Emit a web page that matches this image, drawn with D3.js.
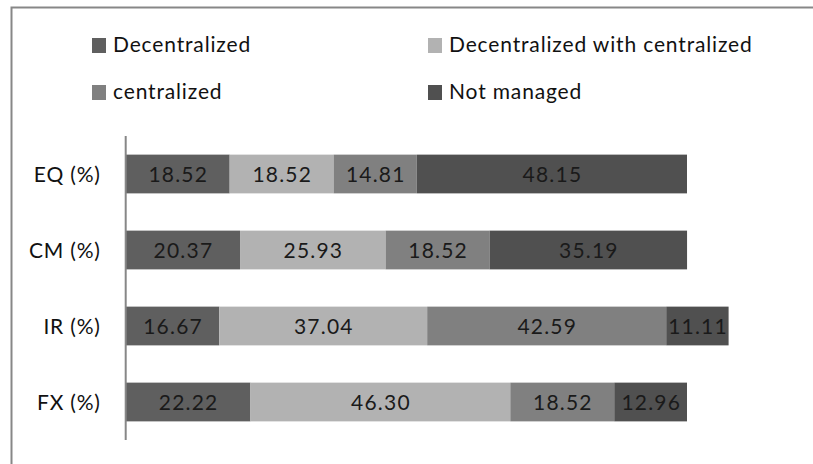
<!DOCTYPE html>
<html>
<head>
<meta charset="utf-8">
<script src="https://cdn.jsdelivr.net/npm/d3@7/dist/d3.min.js"></script>
<style>
  html, body { margin: 0; padding: 0; background: #ffffff; }
  svg { display: block; }
  text { font-family: Lato, "Open Sans", sans-serif; }
</style>
</head>
<body>
<div id="chart"></div>
<script>
// Risk management approach by exposure type (share of respondents, %)
const categories = ["EQ (%)", "CM (%)", "IR (%)", "FX (%)"];
const seriesNames = ["Decentralized", "Decentralized with centralized", "centralized", "Not managed"];
const decentralized = [18.52, 20.37, 16.67, 22.22];
const decentralizedWithCentralized = [18.52, 25.93, 37.04, 46.30];
const centralized = [14.81, 18.52, 42.59, 18.52];
const notManaged = [48.15, 35.19, 11.11, 12.96];
const labels = [
  ["18.52", "18.52", "14.81", "48.15"],
  ["20.37", "25.93", "18.52", "35.19"],
  ["16.67", "37.04", "42.59", "11.11"],
  ["22.22", "46.30", "18.52", "12.96"]
];
const colors = ["#5f5f5f", "#b2b2b2", "#808080", "#505050"];

const W = 813, H = 464;
const svg = d3.select("#chart").append("svg")
  .attr("width", W).attr("height", H);

svg.append("rect").attr("width", W).attr("height", H).attr("fill", "#ffffff");

// chart area frame (left and top edges)
svg.append("path")
  .attr("d", `M11.5,${H} V7.5 H${W}`)
  .attr("fill", "none").attr("stroke", "#878787").attr("stroke-width", 2);

// stacked rows
const rows = categories.map((c, i) => {
  const vals = [decentralized[i], decentralizedWithCentralized[i], centralized[i], notManaged[i]];
  let acc = 0;
  return {
    cat: c,
    segs: vals.map((v, k) => {
      const s = { k, x0: acc, x1: acc + v, v, label: labels[i][k] };
      acc += v;
      return s;
    })
  };
});

const x = d3.scaleLinear().domain([0, 100]).range([125.7, 687]);
const y = d3.scaleBand().domain(categories).range([136, 440])
  .paddingInner(0.49).paddingOuter(0.245);

const rowG = svg.selectAll("g.row").data(rows).join("g")
  .attr("class", "row")
  .attr("transform", d => `translate(0,${y(d.cat)})`);

rowG.selectAll("rect").data(d => d.segs).join("rect")
  .attr("x", s => x(s.x0))
  .attr("width", s => x(s.x1) - x(s.x0))
  .attr("y", 0)
  .attr("height", y.bandwidth())
  .attr("fill", s => colors[s.k]);

rowG.selectAll("text").data(d => d.segs).join("text")
  .attr("x", s => (x(s.x0) + x(s.x1)) / 2 + 0.6)
  .attr("y", y.bandwidth() / 2)
  .attr("dy", "0.36em")
  .attr("text-anchor", "middle")
  .attr("font-size", 21)
  .attr("letter-spacing", 1.2)
  .attr("fill", "#1a1a1a")
  .text(s => s.label);

// category axis
const yAxis = d3.axisLeft(y).tickSize(0).tickPadding(25);
const axisG = svg.append("g").attr("transform", `translate(${x(0)},0)`).call(yAxis);
axisG.select(".domain").attr("stroke", "#878787").attr("stroke-width", 2)
  .attr("d", "M0,136V440");
axisG.selectAll(".tick text")
  .attr("font-size", 21)
  .attr("font-family", "Lato, sans-serif")
  .attr("letter-spacing", 0.8)
  .attr("fill", "#111111")
  .attr("dy", "0.36em");

// legend
const legendPos = [
  { x: 92, y: 38 }, { x: 428, y: 38 },
  { x: 92, y: 85 }, { x: 428, y: 85 }
];
const lg = svg.selectAll("g.legend").data(seriesNames).join("g")
  .attr("class", "legend")
  .attr("transform", (d, i) => `translate(${legendPos[i].x},${legendPos[i].y})`);
lg.append("rect").attr("width", 14).attr("height", 15)
  .attr("fill", (d, i) => colors[i]);
lg.append("text")
  .attr("x", 21).attr("y", 14)
  .attr("font-size", 21)
  .attr("letter-spacing", 0.85)
  .attr("fill", "#111111")
  .text(d => d);
</script>
</body>
</html>
